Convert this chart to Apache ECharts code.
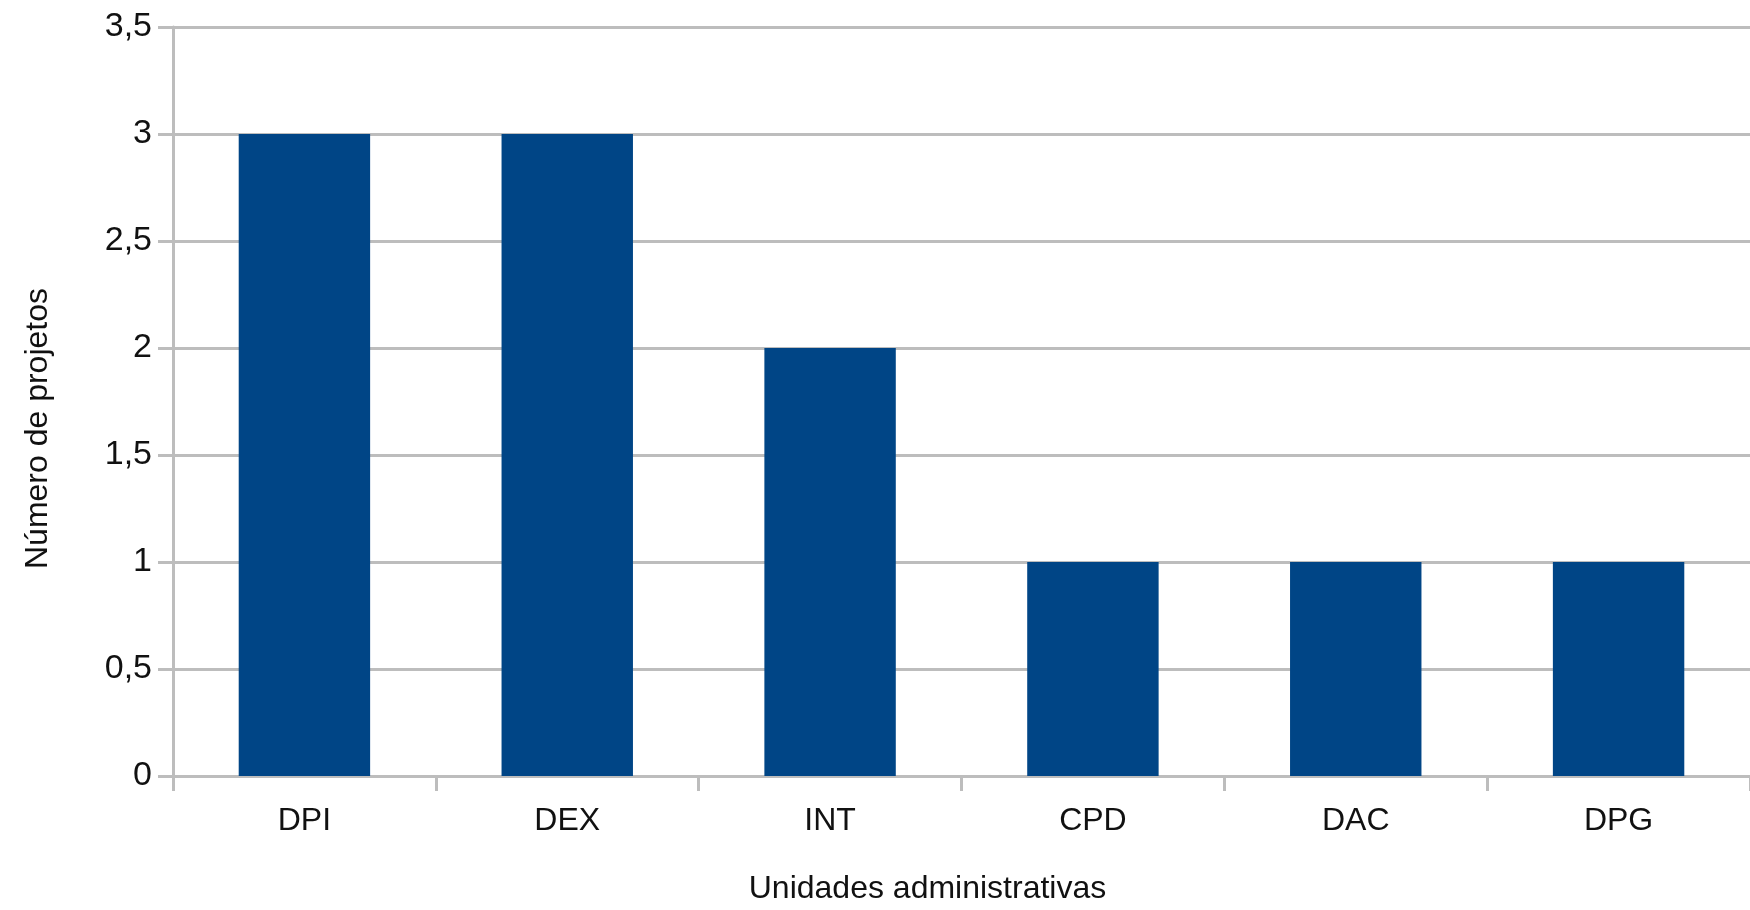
<!DOCTYPE html>
<html>
<head>
<meta charset="utf-8">
<script src="https://cdn.jsdelivr.net/npm/echarts@6/dist/echarts.min.js"></script>
<style>
html,body{margin:0;padding:0;background:#fff;}
#chart{width:1750px;height:910px;}
</style>
</head>
<body>
<div id="chart"></div>
<script>
const categories = ['DPI', 'DEX', 'INT', 'CPD', 'DAC', 'DPG'];
const projectCounts = [3, 3, 2, 1, 1, 1];
const xAxisTitle = 'Unidades administrativas';
const yAxisTitle = 'Número de projetos';

const chart = echarts.init(document.getElementById('chart'));
const gray = '#bdbdbd';
const font = '"Liberation Sans", Arial, sans-serif';
chart.setOption({
  animation: false,
  backgroundColor: '#ffffff',
  grid: { left: 173, top: 27, width: 1596, bottom: 128, containLabel: false },
  xAxis: {
    type: 'category',
    data: categories,
    boundaryGap: true,
    name: xAxisTitle,
    nameLocation: 'middle',
    nameGap: 97,
    nameTextStyle: { fontSize: 32, color: '#111', fontFamily: font, padding: [0, 68, 0, 0] },
    axisLine: { show: true, lineStyle: { color: gray, width: 3 } },
    axisTick: { show: true, length: 15, lineStyle: { color: gray, width: 3 } },
    axisLabel: { fontSize: 32, color: '#111', fontFamily: font, margin: 29 },
    splitLine: { show: false }
  },
  yAxis: {
    type: 'value',
    min: 0,
    max: 3.5,
    interval: 0.5,
    name: yAxisTitle,
    nameLocation: 'middle',
    nameGap: 119,
    nameRotate: 90,
    nameTextStyle: { fontSize: 32, color: '#111', fontFamily: font, padding: [0, 54, 0, 0] },
    axisLine: { show: true, lineStyle: { color: gray, width: 3 } },
    axisTick: { show: true, length: 15, lineStyle: { color: gray, width: 3 } },
    axisLabel: {
      fontSize: 34, color: '#111', fontFamily: font, margin: 21,
      formatter: v => String(v).replace('.', ',')
    },
    splitLine: { show: true, lineStyle: { color: gray, width: 3 } }
  },
  series: [{
    type: 'bar',
    data: projectCounts,
    barCategoryGap: '50%',
    itemStyle: { color: '#004586' }
  }]
});
</script>
</body>
</html>
